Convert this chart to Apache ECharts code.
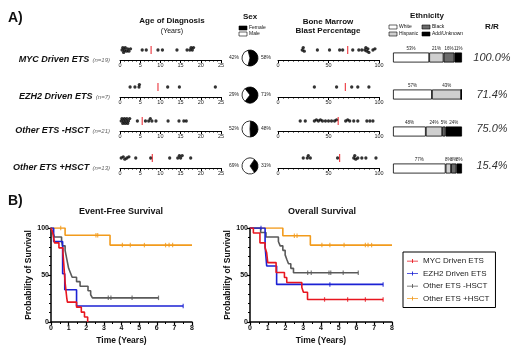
<!DOCTYPE html>
<html>
<head>
<meta charset="utf-8">
<script src="https://cdn.jsdelivr.net/npm/echarts@6/dist/echarts.min.js"></script>
<style>
html, body { margin: 0; padding: 0; background: #fff; }
#chart { width: 520px; height: 361px; }
</style>
</head>
<body>
<div id="chart"></div>
<script>
// groups (rows of panel A)
const groups = ["MYC Driven ETS", "EZH2 Driven ETS", "Other ETS -HSCT", "Other ETS +HSCT"];
const groupN = [19, 7, 21, 13];

// age at diagnosis (years), one list per group
const ageDiag = [
    [0.5, 0.7, 0.9, 1.1, 1.3, 1.6, 1.9, 2.2, 2.6, 5.5, 6.5, 9.4, 10.5, 14.1, 16.6, 17.3, 17.6, 17.9, 18.2],
    [2.5, 3.7, 4.7, 4.8, 11.8, 14.7, 23.6],
    [0.3, 0.5, 0.7, 0.9, 1.1, 1.3, 1.5, 1.7, 1.9, 2.1, 2.4, 4.3, 6.3, 7.1, 7.5, 7.9, 8.9, 11.9, 14.6, 15.8, 16.4],
    [0.3, 0.8, 1.2, 1.7, 2.2, 3.9, 7.6, 12.3, 14.3, 14.7, 15.0, 15.4, 17.5]
];
const ageMean = [7.7, 9.4, 5.5, 8.0];

// bone marrow blast percentage
const blastPct = [
    [24, 25, 26, 39, 51, 61, 64, 74, 80, 83, 86, 87, 88, 89, 90, 94, 96],
    [36, 58, 73, 79, 90],
    [22, 27, 36, 38, 40, 42, 44, 47, 50, 53, 56, 58, 67, 69, 71, 75, 79, 88, 91, 94],
    [25, 29, 30, 32, 59, 75, 76, 77, 79, 83, 87, 97]
];
const blastMean = [69, 66.7, 59.6, 61];

// sex (%)
const femalePct = [58, 71, 48, 31];
const malePct = [42, 29, 52, 69];

// ethnicity (%)
const ethNames = ["White", "Hispanic", "Black", "Add/Unknown"];
const ethWhite = [53, 57, 48, 77];
const ethHispanic = [21, 43, 24, 8];
const ethBlack = [16, 0, 5, 8];
const ethUnknown = [11, 0, 24, 8];

// relapsed / refractory
const rrRate = ["100.0%", "71.4%", "75.0%", "15.4%"];

// Kaplan-Meier curves [years, % survival]
const efsMYC = [[0, 100], [0.1, 94.7], [0.2, 84.2], [0.45, 78.9], [0.68, 73.7], [0.7, 68.4], [0.72, 63.2], [0.74, 57.9], [0.76, 52.6], [0.78, 47.4], [0.8, 42.1], [0.83, 36.8], [0.86, 31.6], [0.89, 26.3], [0.93, 21.1], [1.45, 15.8], [1.72, 10.5], [1.9, 5.3], [2.08, 0]];
const efsEZH2 = [[0, 100], [0.15, 85.7], [0.66, 51.4], [0.78, 34.3], [1.45, 17.1], [7.5, 17.1]];
const efsNoHSCT = [[0, 100], [0.1, 95.2], [0.2, 90.5], [0.6, 85.7], [0.65, 81], [0.8, 76.2], [0.85, 71.4], [0.9, 66.7], [0.95, 61.9], [1.0, 57.1], [1.1, 52.4], [1.2, 47.6], [1.45, 42.9], [1.65, 38.1], [2.1, 33.3], [2.25, 29], [2.35, 25.7], [6.1, 25.7]];
const efsHSCT = [[0, 100], [0.8, 92.3], [3.35, 81.8], [8, 81.8]];
const osMYC = [[0, 100], [0.19, 94.7], [0.56, 84.2], [0.85, 78.9], [0.94, 73.7], [1.0, 63.2], [1.47, 52.6], [1.94, 47.4], [2.07, 42.1], [2.92, 36.8], [3.01, 31.6], [3.24, 24], [7.5, 24]];
const osEZH2 = [[0, 100], [0.85, 80.4], [0.94, 59.6], [1.5, 40], [7.5, 40]];
const osNoHSCT = [[0, 100], [0.6, 95.2], [0.9, 90.5], [1.6, 85.7], [1.7, 81], [1.85, 76.2], [1.98, 71.4], [2.07, 66.7], [2.17, 61.9], [2.3, 57.1], [2.45, 52.4], [6.1, 52.4]];
const osHSCT = [[0, 100], [1.85, 91.8], [3.4, 81.8], [8, 81.8]];

// censored times
const efsCensor = [[], [7.5], [3.25, 3.4, 4.6, 6.1], [0.55, 2.55, 2.65, 4.05, 4.5, 5.3, 6.5, 6.7, 6.9]];
const osCensor = [[4.2, 5.5, 6.5, 7.5], [0.62, 4.5, 7.5], [3.25, 3.45, 4.45, 4.55, 5.25, 6.1], [2.5, 2.65, 4.05, 4.5, 5.3, 6.5, 6.65, 6.85]];

const FONT = "Liberation Sans, Arial, sans-serif";
const kmColors = ["#e8161f", "#1c22d4", "#5a5a5a", "#f29b1c"];
const ethColors = ["#ffffff", "#cfcfcf", "#6b6b6b", "#000000"];
const rowY = [60, 97, 131, 168];

let chart = echarts.init(document.getElementById("chart"), null, { renderer: "canvas" });

// simple beeswarm: stack overlapping dots up / down
function swarm(vals, pxPerUnit) {
    const minGap = 2.1, step = 1.2, placed = [];
    return vals.slice().sort((a, b) => a - b).map(v => {
        const x = v * pxPerUnit;
        let y = 0;
        for (let k = 0; k < 20; k++) {
            const c = (k % 2 ? 1 : -1) * Math.ceil(k / 2) * step;
            if (placed.every(p => Math.hypot(p[0] - x, p[1] - c) >= minGap)) { y = c; break; }
        }
        placed.push([x, y]);
        return [v, y];
    });
}

function levelAt(curve, t) {
    let s = curve[0][1];
    curve.forEach(p => { if (p[0] <= t) s = p[1]; });
    return s;
}

const grids = [], xAxes = [], yAxes = [], series = [], graphics = [];

// strip axes for age and blast
function stripAxis(max, interval, minorSplit) {
    return {
        type: "value", min: 0, max: max, interval: interval,
        axisLine: { onZero: false, lineStyle: { color: "#000", width: 1 } },
        axisTick: { length: 3, lineStyle: { color: "#000" } },
        minorTick: { show: true, splitNumber: minorSplit, length: 1.5, lineStyle: { color: "#000" } },
        splitLine: { show: false },
        axisLabel: { fontSize: 5.5, margin: 2, color: "#222", fontFamily: FONT }
    };
}
function hiddenY() {
    return { type: "value", min: -10, max: 10, show: false };
}

for (let i = 0; i < 4; i++) {
    grids.push({ left: 120, width: 101, top: rowY[i] - 20, height: 20 });
    xAxes.push(Object.assign(stripAxis(25, 5, 5), { gridIndex: i }));
    yAxes.push(Object.assign(hiddenY(), { gridIndex: i }));
}
for (let i = 0; i < 4; i++) {
    grids.push({ left: 278, width: 101, top: rowY[i] - 20, height: 20 });
    xAxes.push(Object.assign(stripAxis(100, 50, 10), { gridIndex: 4 + i }));
    yAxes.push(Object.assign(hiddenY(), { gridIndex: 4 + i }));
}

for (let i = 0; i < 4; i++) {
    series.push({
        type: "scatter", xAxisIndex: i, yAxisIndex: i, silent: true,
        data: swarm(ageDiag[i], 101 / 25), symbolSize: 3.3, itemStyle: { color: "#000" }
    });
    series.push({
        type: "scatter", xAxisIndex: i, yAxisIndex: i, silent: true, z: 3,
        data: [[ageMean[i], 0]], symbol: "rect", symbolSize: [1.2, 8], itemStyle: { color: "#e8161f" }
    });
    series.push({
        type: "scatter", xAxisIndex: 4 + i, yAxisIndex: 4 + i, silent: true,
        data: swarm(blastPct[i], 101 / 100), symbolSize: 3.3, itemStyle: { color: "#000" }
    });
    series.push({
        type: "scatter", xAxisIndex: 4 + i, yAxisIndex: 4 + i, silent: true, z: 3,
        data: [[blastMean[i], 0]], symbol: "rect", symbolSize: [1.2, 8], itemStyle: { color: "#e8161f" }
    });

    // sex pie, female wedge centred on the right
    series.push({
        type: "pie", silent: true, center: [250, rowY[i] - 2], radius: [0, 8],
        startAngle: femalePct[i] * 1.8, clockwise: true,
        label: { show: false }, labelLine: { show: false },
        itemStyle: { borderColor: "#000", borderWidth: 0.8 },
        data: [
            { name: "Female", value: femalePct[i], itemStyle: { color: "#000" } },
            { name: "Male", value: malePct[i], itemStyle: { color: "#fff" } }
        ]
    });
    graphics.push({ type: "text", style: { text: malePct[i] + "%", x: 239, y: rowY[i] - 2, textAlign: "right", textVerticalAlign: "middle", font: "5px " + FONT, fill: "#222" } });
    graphics.push({ type: "text", style: { text: femalePct[i] + "%", x: 261, y: rowY[i] - 2, textAlign: "left", textVerticalAlign: "middle", font: "5px " + FONT, fill: "#222" } });

    // row label
    graphics.push({
        type: "text",
        style: {
            text: "{a|" + groups[i] + "} {b|(n=" + groupN[i] + ")}",
            x: 110, y: rowY[i], textAlign: "right", textVerticalAlign: "middle",
            rich: {
                a: { font: "italic bold 9px " + FONT, fill: "#111" },
                b: { font: "italic 6px " + FONT, fill: "#666" }
            }
        }
    });

    // R/R
    graphics.push({ type: "text", style: { text: rrRate[i], x: 492, y: rowY[i] - 2, textAlign: "center", textVerticalAlign: "middle", font: "italic 11px " + FONT, fill: "#333" } });
}

// ethnicity stacked bars
grids.push({ left: 393, width: 69, top: 39, height: 148 });
xAxes.push({ gridIndex: 8, type: "value", min: 0, max: 101, show: false });
yAxes.push({ gridIndex: 8, type: "category", data: groups, inverse: true, show: false });
[ethWhite, ethHispanic, ethBlack, ethUnknown].forEach((vals, k) => {
    series.push({
        type: "bar", name: ethNames[k], stack: "eth", xAxisIndex: 8, yAxisIndex: 8, silent: true,
        barWidth: 10, data: vals,
        itemStyle: { color: ethColors[k], borderColor: "#000", borderWidth: 0.8 },
        label: {
            show: true, position: "top", distance: 1.5, fontSize: 4.5, color: "#222", fontFamily: FONT,
            formatter: p => (p.value ? p.value + "%" : "")
        }
    });
});

// Kaplan-Meier panels
function kmX(grid) {
    return {
        gridIndex: grid, type: "value", min: 0, max: 8, interval: 1,
        name: "Time (Years)", nameLocation: "middle", nameGap: 14,
        nameTextStyle: { fontSize: 8.5, fontWeight: "bold", color: "#111", fontFamily: FONT },
        axisLine: { lineStyle: { color: "#000", width: 1.5 } },
        axisTick: { length: 3, lineStyle: { color: "#000", width: 1.2 } },
        minorTick: { show: true, splitNumber: 2, length: 2, lineStyle: { color: "#000" } },
        splitLine: { show: false },
        axisLabel: { fontSize: 7, fontWeight: "bold", margin: 3, color: "#111", fontFamily: FONT }
    };
}
function kmY(grid) {
    return {
        gridIndex: grid, type: "value", min: 0, max: 100, interval: 50,
        name: "Probability of Survival", nameLocation: "middle", nameGap: 18,
        nameTextStyle: { fontSize: 8.5, fontWeight: "bold", color: "#111", fontFamily: FONT },
        axisLine: { lineStyle: { color: "#000", width: 1.5 } },
        axisTick: { length: 3, lineStyle: { color: "#000", width: 1.2 } },
        minorTick: { show: true, splitNumber: 5, length: 2, lineStyle: { color: "#000" } },
        splitLine: { show: false },
        axisLabel: { fontSize: 7, fontWeight: "bold", margin: 2, color: "#111", fontFamily: FONT }
    };
}
grids.push({ left: 51, width: 141, top: 228, height: 94 });
grids.push({ left: 250, width: 142, top: 228, height: 94 });
xAxes.push(kmX(9), kmX(10));
yAxes.push(kmY(9), kmY(10));

const efsCurves = [efsMYC, efsEZH2, efsNoHSCT, efsHSCT];
const osCurves = [osMYC, osEZH2, osNoHSCT, osHSCT];
[[efsCurves, efsCensor, 9], [osCurves, osCensor, 10]].forEach(([curves, censors, ax]) => {
    [3, 2, 1, 0].forEach(g => {
        series.push({
            type: "line", name: groups[g], xAxisIndex: ax, yAxisIndex: ax, step: "end",
            data: curves[g], symbol: "none", silent: true, color: kmColors[g],
            lineStyle: { width: 1.6, color: kmColors[g] }, z: 4 + (3 - g)
        });
        series.push({
            type: "scatter", xAxisIndex: ax, yAxisIndex: ax, silent: true, z: 8,
            data: censors[g].map(t => [t, levelAt(curves[g], t)]),
            symbol: "rect", symbolSize: [1.2, 4.5], itemStyle: { color: kmColors[g] }
        });
    });
});

// static titles and legends
function txt(s, x, y, font, align) {
    graphics.push({ type: "text", style: { text: s, x: x, y: y, font: font, fill: "#111", textAlign: align || "center", textVerticalAlign: "middle" } });
}
function box(x, y, fill) {
    graphics.push({ type: "rect", shape: { x: x, y: y, width: 8, height: 4 }, style: { fill: fill, stroke: "#000", lineWidth: 0.6 } });
}
txt("A)", 8, 18, "bold 14px " + FONT, "left");
txt("B)", 8, 201, "bold 14px " + FONT, "left");
txt("Age of Diagnosis", 172, 21, "bold 8px " + FONT);
txt("(Years)", 172, 31, "7px " + FONT);
txt("Sex", 250, 17, "bold 8px " + FONT);
box(239, 26, "#000"); txt("Female", 249, 28, "5px " + FONT, "left");
box(239, 32, "#fff"); txt("Male", 249, 34, "5px " + FONT, "left");
txt("Bone Marrow", 328, 22, "bold 8px " + FONT);
txt("Blast Percentage", 328, 31, "bold 8px " + FONT);
txt("Ethnicity", 427, 16, "bold 8px " + FONT);
box(389, 25, ethColors[0]); txt(ethNames[0], 399, 27, "5px " + FONT, "left");
box(389, 32, ethColors[1]); txt(ethNames[1], 399, 34, "5px " + FONT, "left");
box(422, 25, ethColors[2]); txt(ethNames[2], 432, 27, "5px " + FONT, "left");
box(422, 32, ethColors[3]); txt(ethNames[3], 432, 34, "5px " + FONT, "left");
txt("R/R", 492, 27, "bold 8px " + FONT);
txt("Event-Free Survival", 121, 212, "bold 9px " + FONT);
txt("Overall Survival", 322, 212, "bold 9px " + FONT);

let option = {
    animation: false,
    grid: grids,
    xAxis: xAxes,
    yAxis: yAxes,
    legend: {
        data: groups, orient: "vertical", left: 403, top: 252,
        borderColor: "#000", borderWidth: 1, padding: [5, 6, 5, 4],
        itemGap: 4.5, itemWidth: 11, itemHeight: 6,
        icon: "path://M0,3h20v1.5H0z M9.2,0h1.6v7h-1.6z",
        textStyle: { fontSize: 8, color: "#222", fontFamily: FONT }
    },
    graphic: graphics,
    series: series
};
chart.setOption(option);
</script>
</body>
</html>
